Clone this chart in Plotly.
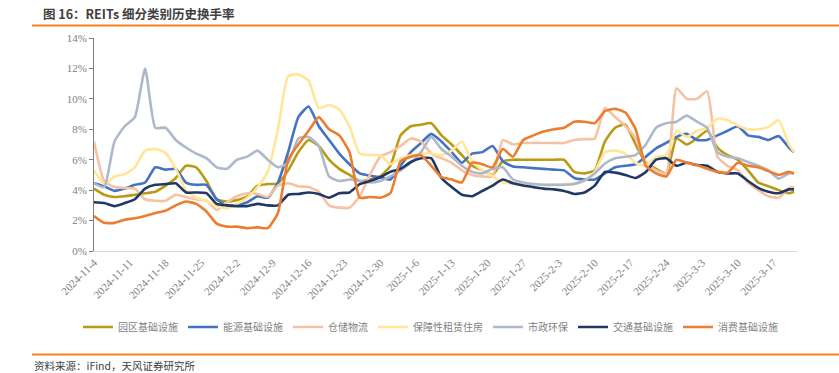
import pandas as pd
import plotly.graph_objects as go

# day offsets from 2024-11-04
day_offsets = list(range(0, 137, 2)) + [137]
dates = [pd.Timestamp("2024-11-04") + pd.Timedelta(days=d) for d in day_offsets]

series_names = ["园区基础设施", "能源基础设施", "仓储物流", "保障性租赁住房", "市政环保", "交通基础设施", "消费基础设施"]
series_colors = ["#B89A14", "#4472C4", "#F5C2A2", "#FFE699", "#ADB9CA", "#203864", "#ED7D31"]

park = [4.1, 3.7, 3.55, 3.6, 3.7, 3.8, 3.9, 4.3, 4.8, 5.6, 5.5, 4.6, 3.4, 3.25, 3.35, 3.6, 4.3, 4.4, 4.45, 5.3,
        6.5, 7.3, 6.9, 6.0, 5.4, 5.0, 4.6, 4.7, 4.9, 5.6, 7.6, 8.2, 8.3, 8.4, 7.6, 7.0, 6.3, 5.6, 5.3, 5.0,
        5.9, 6.0, 6.0, 6.0, 6.0, 6.0, 6.0, 5.2, 5.1, 5.3, 7.2, 8.1, 8.3, 7.0, 5.8, 5.4, 5.1, 7.4, 7.0, 7.4,
        7.9, 6.8, 6.3, 6.0, 5.3, 4.5, 4.25, 4.0, 3.8, 3.9]
energy = [4.45, 4.25, 3.95, 4.1, 4.35, 4.5, 5.5, 5.35, 5.4, 4.5, 4.35, 4.35, 3.4, 3.0, 3.0, 3.2, 3.6, 3.5, 4.5, 6.5,
          8.8, 9.5, 8.2, 7.3, 6.4, 5.7, 5.1, 4.95, 4.85, 4.7, 5.6, 6.5, 7.1, 7.7, 7.2, 6.5, 5.8, 6.4, 6.5, 6.9,
          5.9, 5.55, 5.5, 5.45, 5.4, 5.35, 5.3, 4.8, 4.7, 4.7, 5.1, 5.5, 5.6, 5.7, 6.2, 6.75, 7.1, 7.5, 7.7, 7.3,
          7.3, 7.6, 7.9, 8.2, 7.6, 7.5, 7.3, 7.55, 6.8, 6.5]
storage = [7.2, 4.6, 4.2, 4.15, 4.1, 3.4, 3.3, 3.3, 3.7, 3.55, 3.4, 3.3, 2.7, 3.2, 3.6, 3.8, 3.75, 3.55, 4.3, 4.45,
           4.25, 4.2, 3.9, 3.0, 2.85, 2.85, 3.6, 5.0, 6.2, 6.5, 6.9, 7.4, 7.2, 6.4, 6.1, 5.8, 5.3, 5.0, 4.9, 4.9,
           7.3, 7.0, 7.1, 7.1, 7.1, 7.1, 7.1, 7.3, 7.35, 7.4, 9.4, 8.8, 8.2, 7.4, 5.8, 5.3, 5.1, 10.7, 10.0, 10.0,
           10.5, 6.2, 5.6, 5.3, 4.5, 4.0, 3.6, 3.5, 4.15, 4.2]
rental = [5.3, 4.4, 4.9, 5.05, 5.5, 6.6, 6.7, 6.45, 5.4, 4.0, 3.5, 3.3, 2.95, 2.8, 3.1, 3.5, 4.2, 5.2, 8.0, 11.5,
          11.6, 11.2, 9.4, 9.6, 9.3, 8.2, 6.4, 6.3, 6.3, 5.7, 6.1, 6.3, 6.4, 6.4, 6.3, 6.6, 7.2, 5.9, 5.3, 4.9,
          4.5, 4.45, 4.4, 4.4, 4.35, 4.35, 4.4, 4.45, 4.6, 5.2, 6.5, 6.6, 6.4, 5.8, 5.6, 6.2, 6.3, 7.9, 7.5, 7.9,
          8.1, 8.7, 8.6, 8.25, 8.0, 8.0, 8.15, 8.6, 7.0, 6.5]
municipal = [4.45, 4.2, 7.2, 8.2, 8.8, 12.0, 8.1, 8.1, 7.3, 6.8, 6.4, 6.1, 5.5, 5.4, 6.0, 6.2, 6.6, 6.0, 5.5, 5.8,
             7.4, 7.5, 6.9, 4.9, 4.6, 4.7, 4.6, 4.5, 4.6, 4.9, 5.3, 5.8, 6.5, 7.5, 6.7, 6.2, 5.6, 5.2, 5.1, 5.4,
             5.5, 4.7, 4.5, 4.4, 4.35, 4.35, 4.35, 4.4, 4.65, 5.1, 5.75, 6.1, 6.2, 6.3, 7.0, 8.1, 8.4, 8.5, 8.9, 8.5,
             8.1, 6.5, 6.2, 6.1, 5.85, 5.6, 5.3, 4.75, 5.1, 5.1]
transport = [3.2, 3.15, 2.95, 3.15, 3.4, 4.1, 4.35, 4.4, 4.45, 3.85, 3.85, 3.8, 3.1, 3.0, 2.95, 2.95, 3.1, 3.0, 3.0, 3.7,
             3.75, 3.85, 3.75, 3.5, 3.8, 3.85, 4.4, 4.6, 4.85, 5.2, 5.4, 5.85, 6.1, 6.1, 4.8, 4.2, 3.7, 3.6, 3.95, 4.3,
             4.7, 4.45, 4.3, 4.2, 4.1, 4.05, 3.95, 3.75, 3.85, 4.3, 5.2, 5.15, 5.0, 4.8, 5.2, 6.0, 6.1, 5.6, 5.8, 5.65,
             5.6, 5.2, 5.1, 5.1, 4.6, 4.15, 3.9, 3.8, 4.05, 4.05]
consumer = [2.3, 1.85, 1.85, 2.05, 2.15, 2.3, 2.5, 2.65, 3.0, 3.25, 3.1, 2.6, 1.8, 1.6, 1.6, 1.5, 1.55, 1.5, 2.5, 6.0,
            7.0, 7.9, 8.8, 8.0, 7.6, 6.5, 3.5, 3.55, 3.5, 3.8, 5.9, 6.2, 6.3, 5.6, 4.85, 4.7, 4.5, 5.8, 5.7, 5.5,
            6.7, 6.2, 7.3, 7.6, 7.85, 8.0, 8.1, 8.5, 8.5, 8.4, 9.2, 9.35, 9.1, 8.0, 5.6, 5.1, 4.9, 6.0, 5.8, 5.65,
            5.4, 5.2, 5.15, 5.8, 5.6, 5.5, 5.25, 5.0, 5.2, 5.1]

all_values = [park, energy, storage, rental, municipal, transport, consumer]

tick_dates = ["2024-11-04", "2024-11-11", "2024-11-18", "2024-11-25", "2024-12-02", "2024-12-09", "2024-12-16",
              "2024-12-23", "2024-12-30", "2025-01-06", "2025-01-13", "2025-01-20", "2025-01-27", "2025-02-03",
              "2025-02-10", "2025-02-17", "2025-02-24", "2025-03-03", "2025-03-10", "2025-03-17"]
tick_labels = ["2024-11-4", "2024-11-11", "2024-11-18", "2024-11-25", "2024-12-2", "2024-12-9", "2024-12-16",
               "2024-12-23", "2024-12-30", "2025-1-6", "2025-1-13", "2025-1-20", "2025-1-27", "2025-2-3",
               "2025-2-10", "2025-2-17", "2025-2-24", "2025-3-3", "2025-3-10", "2025-3-17"]
y_ticks = [0, 2, 4, 6, 8, 10, 12, 14]

fig = go.Figure()
for name, color, vals in zip(series_names, series_colors, all_values):
    fig.add_trace(go.Scatter(
        x=dates, y=vals, name=name, mode="lines",
        line=dict(color=color, width=2.6, shape="spline", smoothing=0.5),
        hoverinfo="skip",
    ))

serif = "Liberation Serif, Times New Roman, serif"
cjk = "Noto Sans CJK SC"

PW, PH = 703.0, 213.0  # plot area size in px
def px_x(x):
    return (x - 94) / PW
def px_y(y):
    return (251 - y) / PH

fig.update_layout(
    width=839, height=373,
    margin=dict(l=94, r=42, t=38, b=122, autoexpand=False),
    paper_bgcolor="white", plot_bgcolor="white",
    showlegend=True,
    legend=dict(orientation="h", x=px_x(78), xanchor="left", y=px_y(327), yanchor="middle",
                font=dict(family=cjk, size=10, color="#7F7F7F"),
                itemwidth=30, tracegroupgap=0, bgcolor="rgba(0,0,0,0)"),
    shapes=[
        dict(type="line", xref="paper", yref="paper", x0=px_x(32), x1=px_x(839), y0=px_y(25.5),
             y1=px_y(25.5), line=dict(color="#F58220", width=2)),
        dict(type="line", xref="paper", yref="paper", x0=px_x(32), x1=px_x(839), y0=px_y(354.5),
             y1=px_y(354.5), line=dict(color="#F58220", width=2)),
    ],
    annotations=[
        dict(text="<b>图 16：REITs 细分类别历史换手率</b>", xref="paper", yref="paper",
             x=px_x(41), y=px_y(14), xanchor="left", yanchor="middle", showarrow=False,
             font=dict(family=cjk, size=12.5, color="#404040")),
        dict(text="资料来源：iFind，天风证券研究所", xref="paper", yref="paper",
             x=px_x(32), y=px_y(365), xanchor="left", yanchor="middle", showarrow=False,
             font=dict(family=cjk, size=10.5, color="#404040")),
    ],
)
fig.update_xaxes(
    type="date", range=["2024-11-04", "2025-03-21 14:00"], automargin=False,
    tickvals=tick_dates, ticktext=tick_labels, tickangle=-45,
    showline=True, linecolor="#D9D9D9", linewidth=1, showgrid=False, zeroline=False,
    ticks="", tickfont=dict(family=serif, size=11, color="#7F7F7F"),
)
fig.update_yaxes(
    range=[0, 14], tickvals=y_ticks, ticktext=[f"{v}%" for v in y_ticks], automargin=False,
    showline=True, linecolor="#7F7F7F", linewidth=1, showgrid=False, zeroline=False,
    ticks="outside", ticklen=4, tickcolor="#7F7F7F",
    tickfont=dict(family=serif, size=11, color="#7F7F7F"),
)

fig.write_html("out.html", config={"displayModeBar": False},
               post_script="document.body.style.margin='0';")
